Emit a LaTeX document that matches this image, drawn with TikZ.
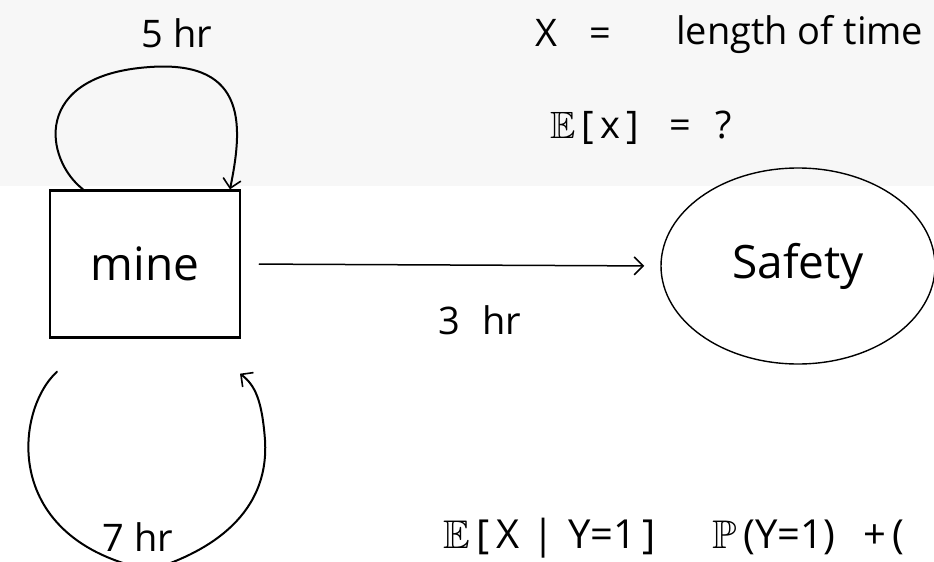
\documentclass[tikz,border=0pt]{standalone}
\usepackage{fontspec}
\usepackage{amssymb}
\setmainfont{Open Sans}
\usetikzlibrary{shapes.geometric,arrows.meta}
\definecolor{bandgray}{RGB}{247,247,247}
\tikzset{
  hand/.style={line width=1.5pt, line cap=round, line join=round},
  loopline/.style={line width=2pt, line cap=round, line join=round},
  barb/.style={-{Straight Barb[length=9pt,width=18pt,line width=1.6pt]}},
  lbl/.style={font=\fontsize{38}{42}\selectfont, inner sep=0pt},
  condlbl/.style={font=\fontsize{40}{44}\selectfont, inner sep=0pt},
  biglbl/.style={font=\fontsize{46}{50}\selectfont, inner sep=0pt},
  statebox/.style={draw, line width=2.4pt, minimum width=190pt, minimum height=147pt, inner sep=0pt},
  stateell/.style={ellipse, draw, line width=1.4pt, minimum width=274pt, minimum height=196pt, inner sep=0pt},
}
\begin{document}
\begin{tikzpicture}[x=1pt,y=-1pt]
\useasboundingbox (0,0) rectangle (934,562);
\clip (0,0) rectangle (934,562);
\fill[bandgray] (0,0) rectangle (934,186);

\node[statebox,biglbl] (mine) at (145,264) {mine};
\node[stateell,biglbl] (safety) at (798,266) {Safety};

\node[lbl] (l5) at (177,33) {5 hr};
\node[lbl] (l3) at (480,320) {3\hspace{22pt}hr};
\node[lbl, anchor=base] (l7) at (138,551) {7 hr};

\draw[loopline,barb] ([xshift=-62pt]mine.north) .. controls (45,160) and (30,75) .. (150,67)
  .. controls (250,60) and (242,130) .. ([xshift=85pt]mine.north);
\draw[loopline,barb] ([shift={(-88,33)}]mine.south) .. controls (15,410) and (0,540) .. (150,570)
  .. controls (200,555) and (270,520) .. (265,440)
  .. controls (262,400) and (255,385) .. ([shift={(95,35)}]mine.south);
\draw[hand,barb, shorten <=18pt, shorten >=16pt] (mine.east) -- (safety.west);

\node[lbl, anchor=base] (xvar) at (546,46) {X};
\node[lbl, anchor=base] (eq) at (600,46) {=};
\node[lbl, anchor=base west] (def) at (676,44) {length of time};
\node[lbl, anchor=base west] (ex) at (550,138) {$\mathbb{E}$\,[\,x\,]\hspace{30pt}=\hspace{24pt}?};
\node[condlbl, anchor=base west] (cond) at (443,548) {$\mathbb{E}$\,[\,X\,\,|\,\,Y=1\,]\hspace{56pt}$\mathbb{P}$\,(Y=1)\hspace{28pt}+\,(};
\end{tikzpicture}
\end{document}
